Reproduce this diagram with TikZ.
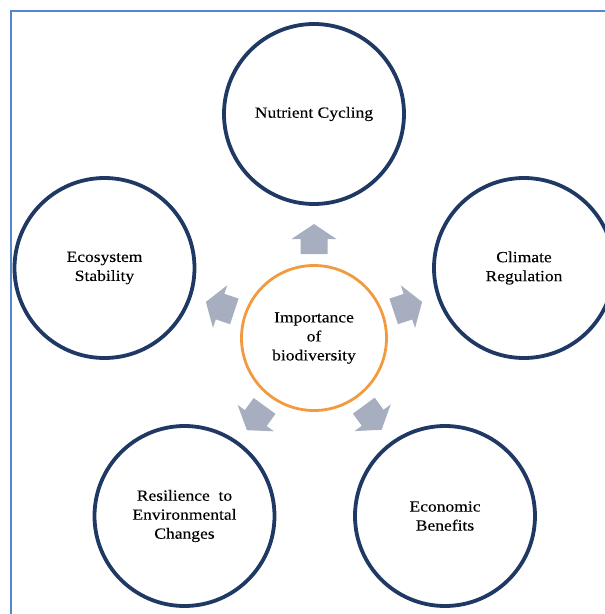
\documentclass[tikz,border=0pt]{standalone}
\usepackage{fontspec}
\usetikzlibrary{calc}
\setmainfont{Liberation Serif}[FakeStretch=1.13, FakeBold=0.15]
\definecolor{navy}{HTML}{1F3864}
\definecolor{orng}{HTML}{F29A3F}
\definecolor{arrowgray}{HTML}{A7AEBF}
\definecolor{frameblue}{HTML}{5585CC}
\tikzset{
  outer/.style={circle, draw=navy, line width=3.8pt, minimum size=180pt, inner sep=0pt,
    align=center, font=\fontsize{15.5}{19}\selectfont, text=black},
  inner/.style={circle, draw=orng, line width=2.8pt, minimum size=145pt, inner sep=0pt,
    align=center, font=\fontsize{15.5}{19}\selectfont, text=black},
  blockarrow/.pic={\fill[arrowgray] (-15,-13.5) -- (0,-13.5) -- (0,-22.5) -- (15,0) -- (0,22.5) -- (0,13.5) -- (-15,13.5) -- cycle;}
}
\begin{document}
\begin{tikzpicture}[x=1pt,y=-1pt]
\useasboundingbox (0,0) rectangle (605,614);
\draw[frameblue, line width=2.2pt] (11,640) -- (11,11) -- (640,11);
\node[inner] (c) at (314,338) {Importance\\of\\biodiversity};
\node[outer] (nut) at (314,114) {Nutrient Cycling};
\node[outer] (cli) at (524,268) {Climate\\Regulation};
\node[outer] (eco) at (104.5,268) {Ecosystem\\Stability};
\node[outer] (res) at (184.5,516) {Resilience~~to\\Environmental\\Changes};
\node[outer] (ben) at (445,516) {Economic\\Benefits};
\foreach \t in {nut,cli,eco,res,ben}{
  \path let \p1=($(\t)-(c)$), \n1={atan2(\y1,\x1)} in
    pic[rotate=\n1] at ($(c)!99pt!(\t)$) {blockarrow};
}
\end{tikzpicture}
\end{document}
